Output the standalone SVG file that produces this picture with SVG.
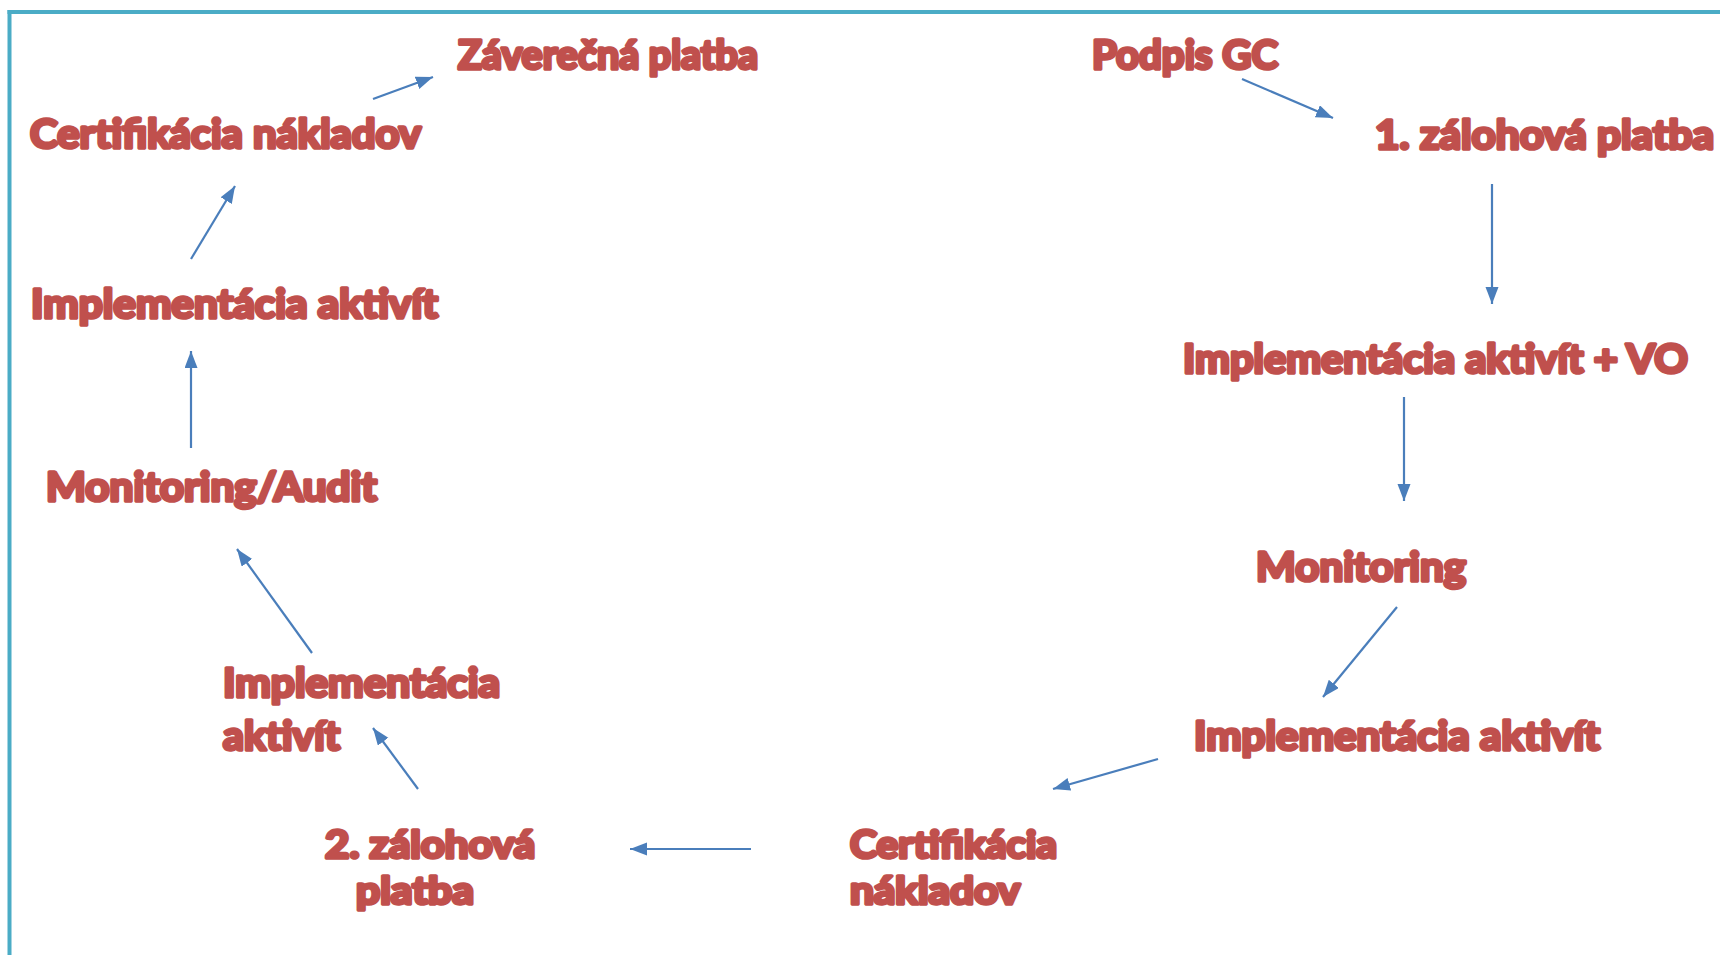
<svg xmlns="http://www.w3.org/2000/svg" width="1720" height="955" viewBox="0 0 1720 955">
<style>
.t{font-family:Lato,"Open Sans","Liberation Sans",sans-serif;font-weight:700;font-size:41px;fill:#C0504D;stroke:#C0504D;stroke-width:3.6;stroke-linejoin:round;paint-order:stroke}
.s{font-size:38.5px}
.c{stroke:#4A7EBB;stroke-width:2.2;fill:none;marker-end:url(#ah)}
.b{stroke:#4BACC6;stroke-width:4;fill:none}
</style>
<defs>
<marker id="ah" markerUnits="userSpaceOnUse" markerWidth="18" markerHeight="14" refX="17" refY="6.5" orient="auto">
<path d="M0,0 L17,6.5 L0,13 z" fill="#4A7EBB"/>
</marker>
</defs>
<rect width="1720" height="955" fill="#FFFFFF"/>
<g id="border">
<line class="b" x1="9.5" y1="10" x2="9.5" y2="955"/>
<line class="b" x1="7.5" y1="12" x2="1720" y2="12"/>
</g>
<g id="connectors">
<line class="c" x1="1242" y1="79" x2="1333" y2="118"/>
<line class="c" x1="1492" y1="184" x2="1492" y2="304"/>
<line class="c" x1="1404" y1="397" x2="1404" y2="501"/>
<line class="c" x1="1397" y1="607" x2="1323" y2="697"/>
<line class="c" x1="1158" y1="759" x2="1053" y2="789"/>
<line class="c" x1="751" y1="849" x2="630" y2="849"/>
<line class="c" x1="418" y1="789" x2="373" y2="728"/>
<line class="c" x1="312" y1="653" x2="237" y2="549"/>
<line class="c" x1="191" y1="448" x2="191" y2="351"/>
<line class="c" x1="191" y1="259" x2="235" y2="186"/>
<line class="c" x1="373" y1="99" x2="433" y2="77"/>
</g>
<g id="zaverecna"><text class="t" x="458" y="69" textLength="300" lengthAdjust="spacingAndGlyphs">Záverečná platba</text></g>
<g id="podpis"><text class="t" x="1092" y="69" textLength="186" lengthAdjust="spacingAndGlyphs">Podpis GC</text></g>
<g id="cert1"><text class="t" x="30" y="148" textLength="391" lengthAdjust="spacingAndGlyphs">Certifikácia nákladov</text></g>
<g id="zal1"><text class="t" x="1375" y="149" textLength="339" lengthAdjust="spacingAndGlyphs">1. zálohová platba</text></g>
<g id="impl-left"><text class="t" x="31" y="318" textLength="407" lengthAdjust="spacingAndGlyphs">Implementácia aktivít</text></g>
<g id="impl-vo"><text class="t" x="1183" y="373" textLength="505" lengthAdjust="spacingAndGlyphs">Implementácia aktivít + VO</text></g>
<g id="mon-audit"><text class="t" x="46" y="501" textLength="331" lengthAdjust="spacingAndGlyphs">Monitoring/Audit</text></g>
<g id="mon"><text class="t" x="1256" y="581" textLength="210" lengthAdjust="spacingAndGlyphs">Monitoring</text></g>
<g id="impl-ll"><text class="t"><tspan x="223" y="697" textLength="277" lengthAdjust="spacingAndGlyphs">Implementácia</tspan><tspan x="223" y="750" textLength="117" lengthAdjust="spacingAndGlyphs">aktivít</tspan></text></g>
<g id="impl-right"><text class="t" x="1194" y="750" textLength="406" lengthAdjust="spacingAndGlyphs">Implementácia aktivít</text></g>
<g id="zal2"><text class="t s"><tspan x="325" y="858" textLength="210" lengthAdjust="spacingAndGlyphs">2. zálohová</tspan><tspan x="356" y="904" textLength="118" lengthAdjust="spacingAndGlyphs">platba</tspan></text></g>
<g id="cert2"><text class="t s"><tspan x="850" y="858" textLength="207" lengthAdjust="spacingAndGlyphs">Certifikácia</tspan><tspan x="850" y="904" textLength="170" lengthAdjust="spacingAndGlyphs">nákladov</tspan></text></g>
</svg>
